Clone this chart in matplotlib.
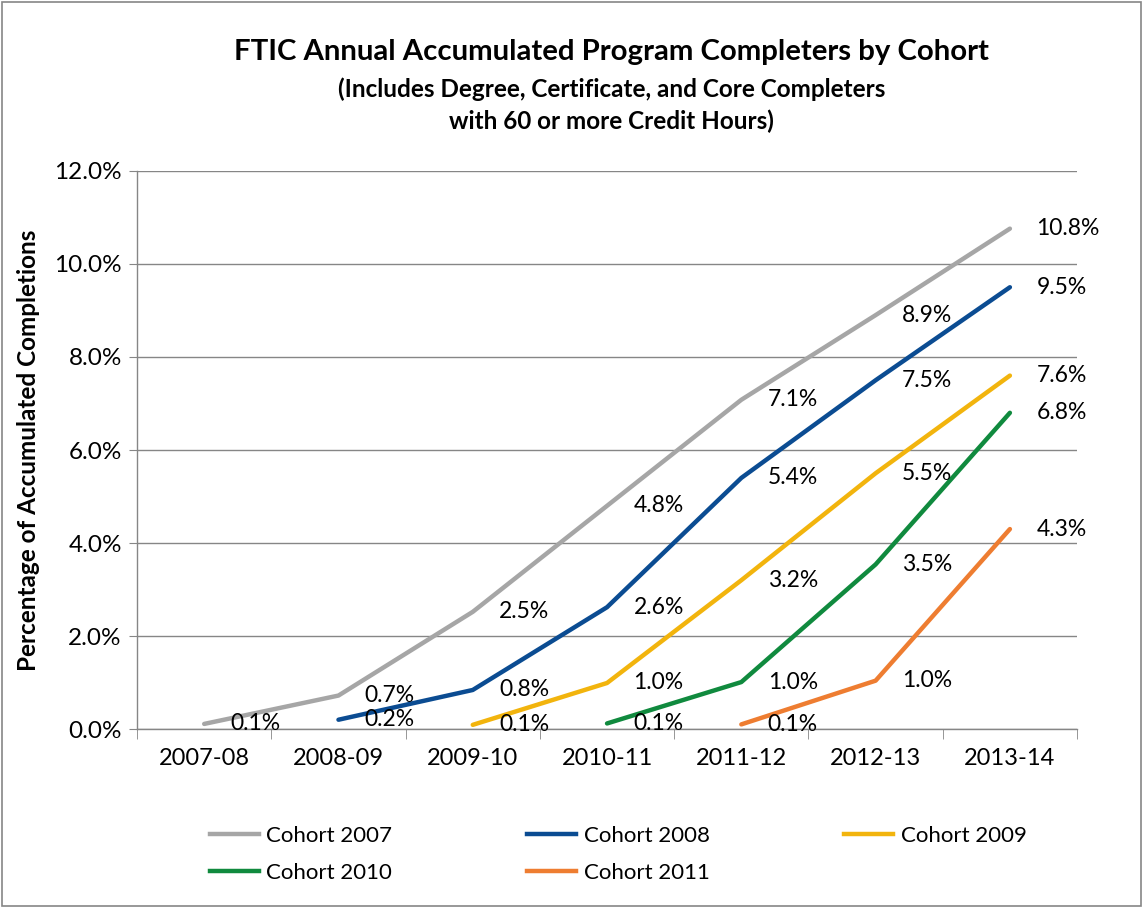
import matplotlib.pyplot as plt
from matplotlib.patches import Rectangle
from matplotlib.lines import Line2D

plt.rcParams['font.family'] = ['Lato', 'DejaVu Sans']

# --- data ---
years = ['2007-08', '2008-09', '2009-10', '2010-11', '2011-12', '2012-13', '2013-14']
cohorts = ['Cohort 2007', 'Cohort 2008', 'Cohort 2009', 'Cohort 2010', 'Cohort 2011']
# first year index for each cohort
start_idx = [0, 1, 2, 3, 4]
# values in percent
c2007 = [0.11, 0.72, 2.52, 4.8, 7.08, 8.9, 10.76]
c2008 = [0.2, 0.84, 2.62, 5.4, 7.5, 9.5]
c2009 = [0.09, 0.99, 3.2, 5.5, 7.6]
c2010 = [0.12, 1.01, 3.54, 6.8]
c2011 = [0.1, 1.04, 4.3]
series = [c2007, c2008, c2009, c2010, c2011]
colors = ['#A6A6A6', '#0B4C92', '#F2B40D', '#108A3E', '#EE7D31']

fig = plt.figure(figsize=(11.43, 9.08), dpi=100)
ax = fig.add_axes([0.1199, 0.1971, 0.8224, 0.6146])

for name, vals, s, col in zip(cohorts, series, start_idx, colors):
    xs = list(range(s, s + len(vals)))
    ax.plot(xs, vals, color=col, lw=3.2, solid_capstyle='round', label=name, zorder=3)
    for x, v in zip(xs, vals):
        ax.annotate(f'{v:.1f}%', (x, v), xytext=(19, 0), textcoords='offset points',
                    ha='left', va='center', fontsize=16.5, color='black', zorder=4)

ax.set_xlim(-0.5, 6.5)
ax.set_ylim(0, 12)
ax.set_yticks([0, 2, 4, 6, 8, 10, 12])
ax.set_yticklabels([f'{t:.1f}%' for t in [0, 2, 4, 6, 8, 10, 12]], fontsize=17.5)
ax.set_xticks(range(len(years)))
ax.set_xticklabels(years, fontsize=17)
ax.set_xticks([i - 0.5 for i in range(len(years) + 1)], minor=True)
ax.tick_params(axis='x', which='major', length=0, pad=14)
ax.tick_params(axis='x', which='minor', length=7, color='#868686', direction='out')
ax.tick_params(axis='y', length=6, color='#868686', pad=5)
ax.grid(axis='y', color='#868686', lw=1)
ax.set_axisbelow(True)
for sp in ['top', 'right']:
    ax.spines[sp].set_visible(False)
for sp in ['left', 'bottom']:
    ax.spines[sp].set_color('#868686')
    ax.spines[sp].set_linewidth(1)

ax.set_ylabel('Percentage of Accumulated Completions', fontsize=17.5, fontweight='bold', labelpad=10)

fig.text(0.535, 0.943, 'FTIC Annual Accumulated Program Completers by Cohort',
         ha='center', va='center', fontsize=21.2, fontweight='bold')
fig.text(0.535, 0.884, '(Includes Degree, Certificate, and Core Completers\nwith 60 or more Credit Hours)',
         ha='center', va='center', fontsize=17.5, fontweight='bold', linespacing=1.45)

# legend filled row by row
handles = [Line2D([], [], color=c, lw=3.2) for c in colors]
order = [0, 3, 1, 4, 2]
fig.legend([handles[i] for i in order], [cohorts[i] for i in order], ncol=3,
           loc='center left', bbox_to_anchor=(0.166, 0.059), frameon=False, fontsize=16,
           handlelength=2.2, handletextpad=0.35, columnspacing=6.05, labelspacing=0.75)

fig.patches.append(Rectangle((0.002, 0.002), 0.996, 0.996, transform=fig.transFigure,
                             fill=False, edgecolor='#868686', lw=1.2))

fig.savefig('out.png', dpi=100)
